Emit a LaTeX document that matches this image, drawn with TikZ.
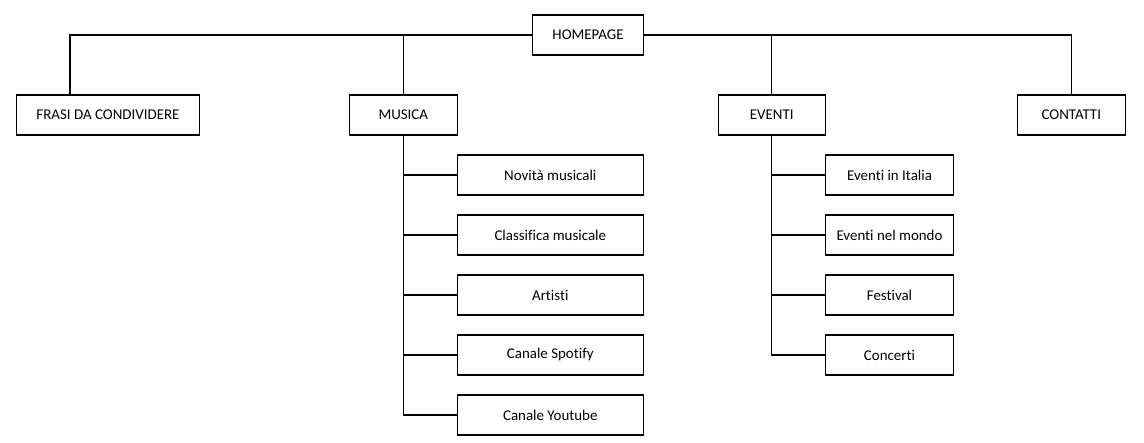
\documentclass[tikz,border=0pt]{standalone}
\usepackage{fontspec}
\setmainfont{Carlito}[Ligatures={NoCommon,NoRare,NoContextual}]
\usetikzlibrary{positioning}
\tikzset{
    pagebox/.style={draw, rectangle, line width=0.6pt, inner sep=0pt, minimum height=0.8cm, font=\fontsize{8.5}{10}\selectfont},
    link/.style={line width=0.6pt}
}

\begin{document}
\begin{tikzpicture}[x=0.02cm, y=-0.02cm]
    \useasboundingbox (0,0) rectangle (1144,443);

    \node[pagebox, minimum width=2.22cm] (home) at (588,35) {HOMEPAGE};

    \node[pagebox, minimum width=3.66cm] (frasi) at (108,115) {FRASI DA CONDIVIDERE};
    \node[pagebox, minimum width=2.16cm] (musica) at (403.3,115) {MUSICA};
    \node[pagebox, minimum width=2.14cm] (eventi) at (771.8,115) {EVENTI};
    \node[pagebox, minimum width=2.16cm] (contatti) at (1071.3,115) {CONTATTI};

    \node[pagebox, minimum width=3.72cm] (m1) at (550.3,175) {Novità musicali};
    \node[pagebox, minimum width=3.72cm] (m2) at (550.3,235) {Classifica musicale};
    \node[pagebox, minimum width=3.72cm] (m3) at (550.3,295) {Artisti};
    \node[pagebox, minimum width=3.72cm] (m4) at (550.3,355) {Canale Spotify};
    \node[pagebox, minimum width=3.72cm] (m5) at (550.3,415) {Canale Youtube};

    \node[pagebox, minimum width=2.55cm] (e1) at (889.5,175) {Eventi in Italia};
    \node[pagebox, minimum width=2.55cm] (e2) at (889.5,235) {Eventi nel mondo};
    \node[pagebox, minimum width=2.55cm] (e3) at (889.5,295) {Festival};
    \node[pagebox, minimum width=2.55cm] (e4) at (889.5,355) {Concerti};

    % Main sections
    \draw[link] (home.west) -| ([xshift=-0.76cm]frasi.north);
    \draw[link] (home.west) -| (musica.north);
    \draw[link] (home.east) -| (eventi.north);
    \draw[link] (home.east) -| (contatti.north);

    % Musica pages
    \draw[link] (musica.south) |- (m1.west);
    \draw[link] (musica.south) |- (m2.west);
    \draw[link] (musica.south) |- (m3.west);
    \draw[link] (musica.south) |- (m4.west);
    \draw[link] (musica.south) |- (m5.west);

    % Eventi pages
    \draw[link] (eventi.south) |- (e1.west);
    \draw[link] (eventi.south) |- (e2.west);
    \draw[link] (eventi.south) |- (e3.west);
    \draw[link] (eventi.south) |- (e4.west);
\end{tikzpicture}
\end{document}
